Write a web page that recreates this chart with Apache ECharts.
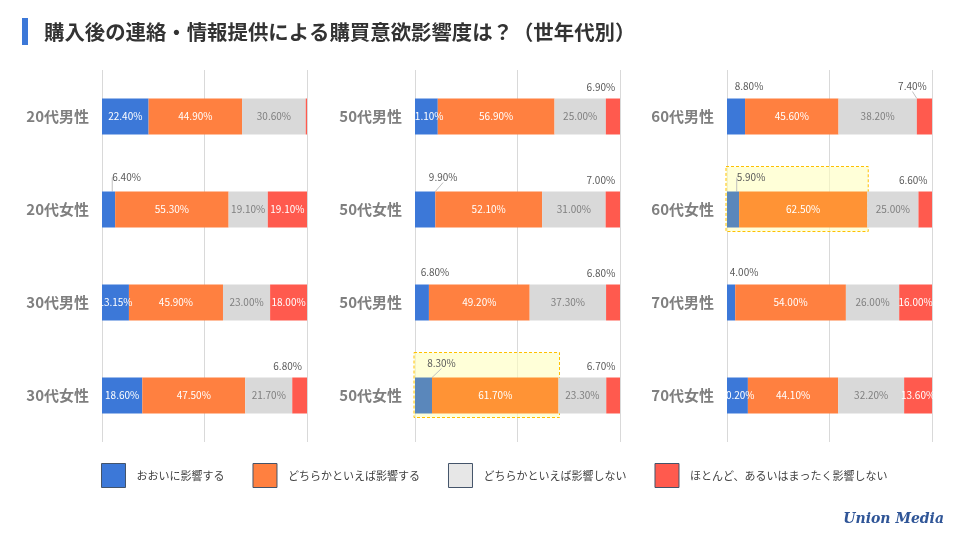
<!DOCTYPE html>
<html><head><meta charset="utf-8">
<script src="https://cdn.jsdelivr.net/npm/echarts@6/dist/echarts.min.js"></script>
<style>html,body{margin:0;padding:0;background:#fff}#c{width:960px;height:539px}</style>
</head><body><div id="c"></div>
<script>
// ---- data ----
const titleText = '購入後の連絡・情報提供による購買意欲影響度は？（世年代別）';
const seriesNames = ['おおいに影響する', 'どちらかといえば影響する', 'どちらかといえば影響しない', 'ほとんど、あるいはまったく影響しない'];
const cats1 = ['20代男性', '20代女性', '30代男性', '30代女性'];
const cats2 = ['50代男性', '50代女性', '50代男性', '50代女性'];
const cats3 = ['60代男性', '60代女性', '70代男性', '70代女性'];
// panel 1
const great1 = [22.4, 6.4, 13.15, 18.6];
const some1 = [44.9, 55.3, 45.9, 47.5];
const notMuch1 = [30.6, 19.1, 23.0, 21.7];
const none1 = [0.6, 19.1, 18.0, 6.8];
// panel 2
const great2 = [11.1, 9.9, 6.8, 8.3];
const some2 = [56.9, 52.1, 49.2, 61.7];
const notMuch2 = [25.0, 31.0, 37.3, 23.3];
const none2 = [6.9, 7.0, 6.8, 6.7];
// panel 3
const great3 = [8.8, 5.9, 4.0, 10.2];
const some3 = [45.6, 62.5, 54.0, 44.1];
const notMuch3 = [38.2, 25.0, 26.0, 32.2];
const none3 = [7.4, 6.6, 16.0, 13.6];
const highlightRows = [null, 3, 1]; // highlighted row per panel

// ---- style ----
const colors = ['#3c78d8', '#ff8040', '#d9d9d9', '#ff5a4e'];
const legendColors = ['#3c78d8', '#ff8040', '#e7e7e7', '#ff5a4e'];
const hlColors = ['#5a87bb', '#ff9335'];
const FONT = '"Noto Sans CJK JP", "Noto Sans", sans-serif';
const gridLefts = [102, 415, 727];
const GRID_W = 205, GRID_TOP = 70, GRID_H = 372, BAR_H = 36;
// leader-lined outside labels: key panel-series-row
const leaderItems = {'0-0-1': true, '1-0-1': true, '1-0-3': true, '2-0-1': true, '2-3-0': true};

const panels = [
  {cats: cats1, vals: [great1, some1, notMuch1, none1]},
  {cats: cats2, vals: [great2, some2, notMuch2, none2]},
  {cats: cats3, vals: [great3, some3, notMuch3, none3]}
];

const grid = [], xAxis = [], yAxis = [], series = [];
panels.forEach((p, pi) => {
  grid.push({left: gridLefts[pi], width: GRID_W, top: GRID_TOP, height: GRID_H});
  xAxis.push({gridIndex: pi, type: 'value', min: 0, max: 100, interval: 50,
    axisLabel: {show: false}, axisLine: {show: false}, axisTick: {show: false},
    splitLine: {show: true, lineStyle: {color: '#d9d9d9', width: 1}}});
  yAxis.push({gridIndex: pi, type: 'category', data: p.cats, inverse: true,
    axisLine: {show: false}, axisTick: {show: false},
    axisLabel: {color: '#7f7f7f', fontSize: 15, fontWeight: 'bold', fontFamily: FONT, margin: 13}});
  const totals = p.cats.map((c, r) => p.vals.reduce((a, arr) => a + arr[r], 0));
  p.vals.forEach((arr, si) => {
    const data = arr.map((v, r) => {
      const item = {value: v / totals[r] * 100, raw: v};
      const isLeader = !!leaderItems[pi + '-' + si + '-' + r];
      if (v < 1) {
        item.label = {show: false};
      } else if (v < 10 && (si === 0 || si === 3)) {
        item.label = {show: true, position: 'top', color: '#595959', distance: 4};
        item.outside = true;
        item.isLeader = isLeader;
        item.labelLine = {show: isLeader, lineStyle: {color: '#bfbfbf', width: 1}};
      }
      if (highlightRows[pi] === r && si < 2) item.itemStyle = {color: hlColors[si]};
      return item;
    });
    series.push({
      name: seriesNames[si], type: 'bar', xAxisIndex: pi, yAxisIndex: pi, stack: 'p' + pi,
      barWidth: BAR_H, data: data, z: 3,
      itemStyle: {color: colors[si]},
      label: {show: true, position: 'inside', fontSize: 10, fontFamily: FONT,
        color: si === 2 ? '#7f7f7f' : '#ffffff',
        formatter: prm => prm.data.raw.toFixed(2) + '%'},
      labelLine: {show: false},
      labelLayout: prm => {
        const d = data[prm.dataIndex];
        if (!d || !d.outside) return {};
        if (d.isLeader) return si === 0 ? {dx: 18, dy: -5} : {dx: -12, dy: -3};
        return si === 0 ? {dx: 13, dy: -3} : {dx: -12, dy: -2};
      }
    });
  });
});

const chart = echarts.init(document.getElementById('c'), null, {renderer: 'canvas'});
chart.setOption({
  animation: false,
  color: colors,
  grid, xAxis, yAxis, series,
  legend: {
    left: 101, top: 463, padding: 0, itemWidth: 24, itemHeight: 24, itemGap: 28, icon: 'rect',
    data: seriesNames.map((n, i) => ({name: n, itemStyle: {color: legendColors[i]}})),
    itemStyle: {borderColor: '#44546a', borderWidth: 1},
    textStyle: {fontSize: 11, color: '#404040', fontFamily: FONT, padding: [0, 0, 0, 6]}
  }
});

// highlight boxes around blue+orange segments
const graphics = [
  {type: 'rect', left: 22, top: 18, shape: {width: 6, height: 27}, style: {fill: '#3c78d8'}},
  {type: 'text', left: 44, top: 22, style: {text: titleText, fontSize: 20.4, fontWeight: 'bold', fill: '#333333', fontFamily: FONT}},
  {type: 'text', right: 16, top: 512, style: {text: 'Union Media', fontSize: 14, fontWeight: 'bold', fontStyle: 'italic', fill: '#2f5597', fontFamily: '"DejaVu Serif", serif'}}
];
panels.forEach((p, pi) => {
  const r = highlightRows[pi];
  if (r === null) return;
  const totals = p.cats.map((c, rr) => p.vals.reduce((a, arr) => a + arr[rr], 0));
  const endVal = (p.vals[0][r] + p.vals[1][r]) / totals[r] * 100;
  const p0 = chart.convertToPixel({gridIndex: pi}, [0, r]);
  const p1 = chart.convertToPixel({gridIndex: pi}, [endVal, r]);
  const top = p0[1] - BAR_H / 2 - 25;
  graphics.push({type: 'rect', z: 1, shape: {x: p0[0] - 1, y: top, width: p1[0] - p0[0] + 2, height: BAR_H + 29},
    style: {fill: 'rgba(255,255,190,0.6)', stroke: '#ffc000', lineWidth: 1, lineDash: [3, 2]}});
});
chart.setOption({graphic: graphics});
</script></body></html>
